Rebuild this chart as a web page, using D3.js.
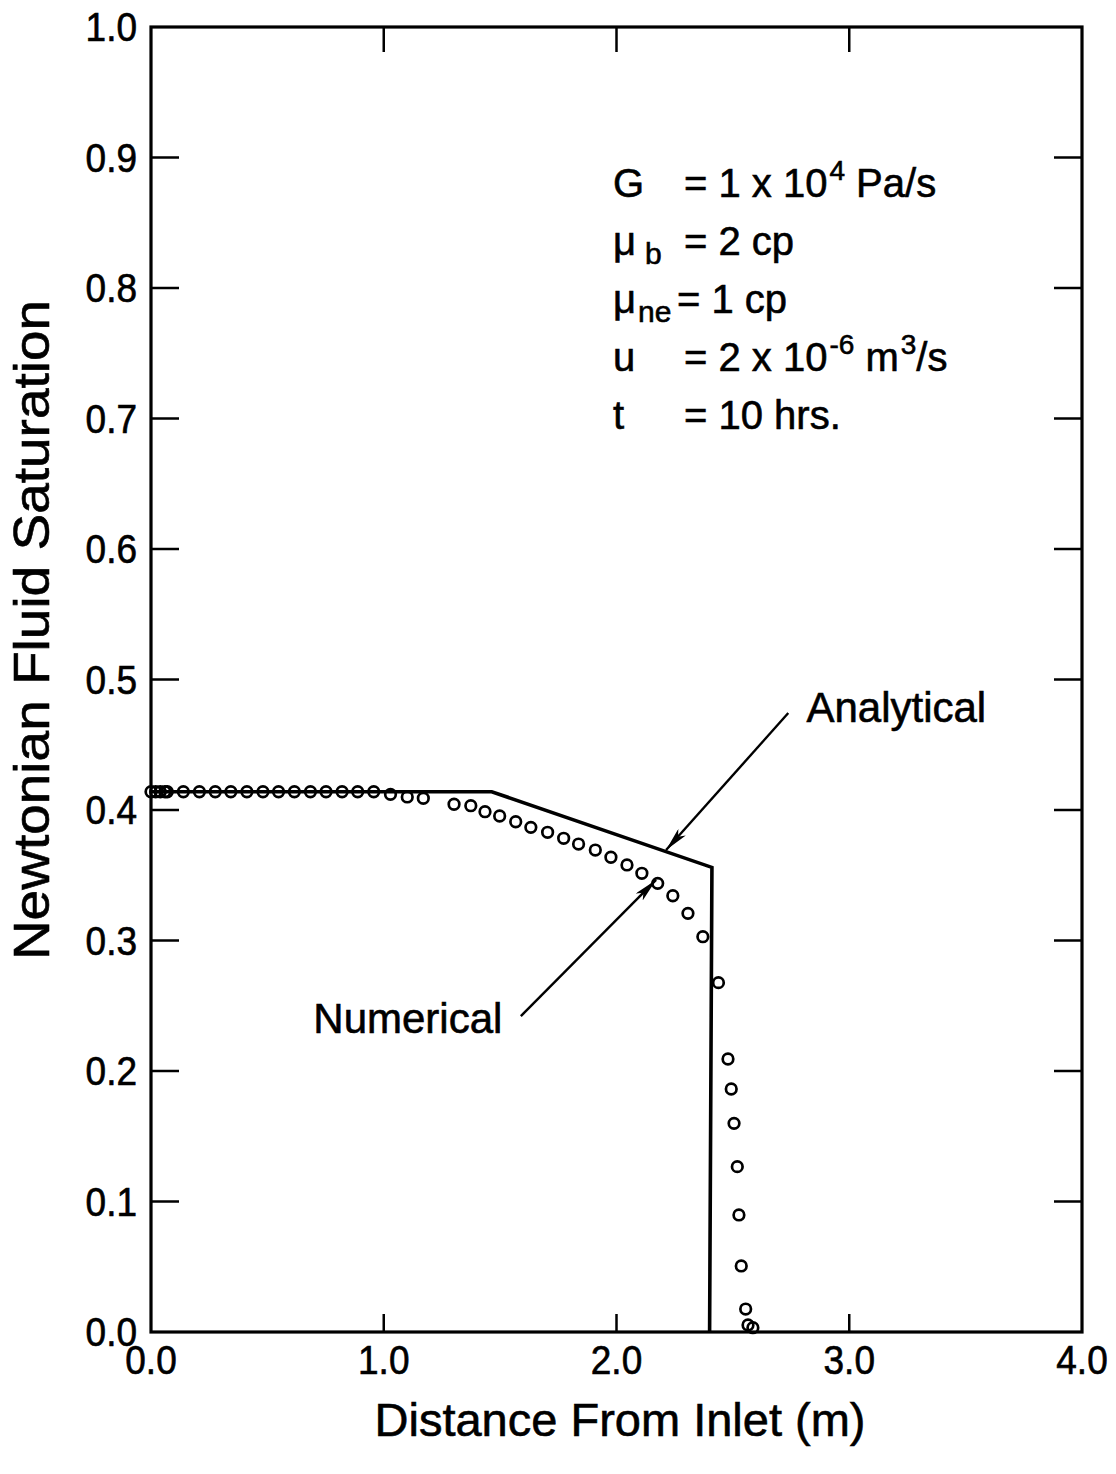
<!DOCTYPE html>
<html>
<head>
<meta charset="utf-8">
<script src="https://cdn.jsdelivr.net/npm/d3@7"></script>
<style>
  html, body { margin: 0; padding: 0; background: #fff; }
  svg { display: block; }
  text { font-family: "Liberation Sans", Arial, Helvetica, sans-serif; fill: #000; stroke: #000; stroke-width: 0.6; }
</style>
</head>
<body>
<svg id="chart" width="1116" height="1474"></svg>
<script>
// ---------------- data ----------------
const xTicks = [0, 1, 2, 3, 4];
const xTickLabels = ["0.0", "1.0", "2.0", "3.0", "4.0"];
const yTicks = [0, 0.1, 0.2, 0.3, 0.4, 0.5, 0.6, 0.7, 0.8, 0.9, 1.0];
const yTickLabels = ["0.0", "0.1", "0.2", "0.3", "0.4", "0.5", "0.6", "0.7", "0.8", "0.9", "1.0"];

// Analytical solution (solid line)
const analyticalX = [0.0, 1.464, 2.41, 2.40];
const analyticalY = [0.414, 0.414, 0.356, 0.0];

// Numerical solution (open circles)
const numericalX = [0.0, 0.02, 0.04, 0.06, 0.07, 0.139, 0.208, 0.276, 0.343, 0.412, 0.481, 0.548, 0.616, 0.685, 0.752, 0.821, 0.888, 0.957, 1.029, 1.101, 1.170,
  1.302, 1.374, 1.435, 1.498, 1.567, 1.632, 1.704, 1.773, 1.837, 1.909, 1.976, 2.045, 2.109, 2.177, 2.242, 2.307, 2.371,
  2.438, 2.479, 2.493, 2.505, 2.519, 2.526, 2.536, 2.555, 2.565, 2.586];
const numericalY = [0.414, 0.414, 0.414, 0.414, 0.414, 0.414, 0.414, 0.414, 0.414, 0.414, 0.414, 0.414, 0.414, 0.414, 0.414, 0.414, 0.414, 0.414, 0.412, 0.410, 0.409,
  0.4044, 0.4033, 0.3987, 0.3954, 0.3910, 0.3867, 0.3829, 0.3783, 0.3739, 0.3693, 0.3638, 0.3579, 0.3515, 0.3438, 0.3343, 0.3208, 0.3029,
  0.2677, 0.2092, 0.1862, 0.1599, 0.1267, 0.0897, 0.0506, 0.0176, 0.0054, 0.0033];

const xTitle = "Distance From Inlet (m)";
const yTitle = "Newtonian Fluid Saturation";

// annotations (in data units)
const annoLabels = ["Analytical", "Numerical"];
const annoTextX = [2.816, 0.6975];
const annoTextY = [0.4674, 0.2291];
const arrowFromX = [2.738, 1.589];
const arrowFromY = [0.4743, 0.2421];
const arrowToX = [2.213, 2.170];
const arrowToY = [0.3693, 0.3464];

// parameter block
const paramSymbols = ["G", "μ", "μ", "u", "t"];
const paramSubs = ["", "b", "ne", "", ""];
const paramValues = [
  [["= 1 x 10", 0], ["4", 1], [" Pa/s", 0]],
  [["= 2 cp", 0]],
  [["= 1 cp", 0]],
  [["= 2 x 10", 0], ["-6", 1], [" m", 0], ["3", 1], ["/s", 0]],
  [["= 10 hrs.", 0]]
];
const paramX = 1.985;
const paramEqX = [2.290, 2.290, 2.260, 2.290, 2.290];
const paramBaseY = [0.8697, 0.8253, 0.7808, 0.7364, 0.6920];

// ---------------- drawing ----------------
const svg = d3.select("#chart");
const L = 151, R = 1082, T = 27, B = 1332;
const x = d3.scaleLinear().domain([0, 4]).range([L, R]);
const y = d3.scaleLinear().domain([0, 1]).range([B, T]);

// ticks (inward)
const tickG = svg.append("g").attr("stroke", "#000").attr("stroke-width", 2.5);
yTicks.filter(v => v > 0 && v < 1).forEach(v => {
  tickG.append("line").attr("x1", L).attr("x2", L + 28).attr("y1", y(v)).attr("y2", y(v));
  tickG.append("line").attr("x1", R).attr("x2", R - 28).attr("y1", y(v)).attr("y2", y(v));
});
xTicks.filter(v => v > 0 && v < 4).forEach(v => {
  tickG.append("line").attr("x1", x(v)).attr("x2", x(v)).attr("y1", T).attr("y2", T + 25);
  tickG.append("line").attr("x1", x(v)).attr("x2", x(v)).attr("y1", B).attr("y2", B - 18);
});

// frame
svg.append("rect").attr("x", L).attr("y", T).attr("width", R - L).attr("height", B - T)
  .attr("fill", "none").attr("stroke", "#000").attr("stroke-width", 3.2);

// tick labels
svg.append("g").selectAll("text").data(yTicks).join("text")
  .attr("transform", d => `translate(${L - 14},${y(d)}) scale(1,1.08)`)
  .attr("dy", "0.36em")
  .attr("text-anchor", "end").attr("font-size", 37)
  .text((d, i) => yTickLabels[i]);
svg.append("g").selectAll("text").data(xTicks).join("text")
  .attr("transform", d => `translate(${x(d)},${B + 42}) scale(1,1.08)`)
  .attr("text-anchor", "middle").attr("font-size", 37)
  .text((d, i) => xTickLabels[i]);

// axis titles
svg.append("text").attr("x", 620).attr("y", 1436).attr("text-anchor", "middle")
  .attr("font-size", 47).text(xTitle);
svg.append("text").attr("transform", "translate(49,630) rotate(-90) scale(1.1,1)")
  .attr("text-anchor", "middle").attr("font-size", 50).text(yTitle);

// analytical line
const aData = analyticalX.map((v, i) => [v, analyticalY[i]]);
svg.append("path").datum(aData)
  .attr("d", d3.line().x(d => x(d[0])).y(d => y(d[1])))
  .attr("fill", "none").attr("stroke", "#000").attr("stroke-width", 3.6)
  .attr("stroke-linejoin", "miter");

// numerical circles
const nData = numericalX.map((v, i) => [v, numericalY[i]]);
svg.append("g").selectAll("circle").data(nData).join("circle")
  .attr("cx", d => x(d[0])).attr("cy", d => y(d[1])).attr("r", 5.3)
  .attr("fill", "none").attr("stroke", "#000").attr("stroke-width", 2.7);

// arrows
const defs = svg.append("defs");
defs.append("marker").attr("id", "ah").attr("viewBox", "0 0 24 10")
  .attr("refX", 24).attr("refY", 5).attr("markerWidth", 24).attr("markerHeight", 10)
  .attr("markerUnits", "userSpaceOnUse").attr("orient", "auto")
  .append("path").attr("d", "M0,0 L24,5 L0,10 L6,5 Z").attr("fill", "#000");
annoLabels.forEach((lab, i) => {
  svg.append("line")
    .attr("x1", x(arrowFromX[i])).attr("y1", y(arrowFromY[i]))
    .attr("x2", x(arrowToX[i])).attr("y2", y(arrowToY[i]))
    .attr("stroke", "#000").attr("stroke-width", 2.4).attr("marker-end", "url(#ah)");
  svg.append("text").attr("x", x(annoTextX[i])).attr("y", y(annoTextY[i]))
    .attr("font-size", 42).text(lab);
});

// parameter block
paramSymbols.forEach((s, i) => {
  const t = svg.append("text").attr("x", x(paramX)).attr("y", y(paramBaseY[i])).attr("font-size", 40);
  t.append("tspan").text(s);
  if (paramSubs[i]) {
    t.append("tspan").attr("dx", paramSubs[i] === "b" ? 9 : 2).attr("dy", 9).attr("font-size", 30).text(paramSubs[i]);
  }
  const v = svg.append("text").attr("x", x(paramEqX[i])).attr("y", y(paramBaseY[i])).attr("font-size", 40);
  let level = 0;
  paramValues[i].forEach(([str, sup]) => {
    const sp = v.append("tspan").text(str);
    if (sup && !level) { sp.attr("dy", -17).attr("font-size", 28).attr("dx", 2); level = 1; }
    else if (!sup && level) { sp.attr("dy", 17); level = 0; }
  });
});
</script>
</body>
</html>
